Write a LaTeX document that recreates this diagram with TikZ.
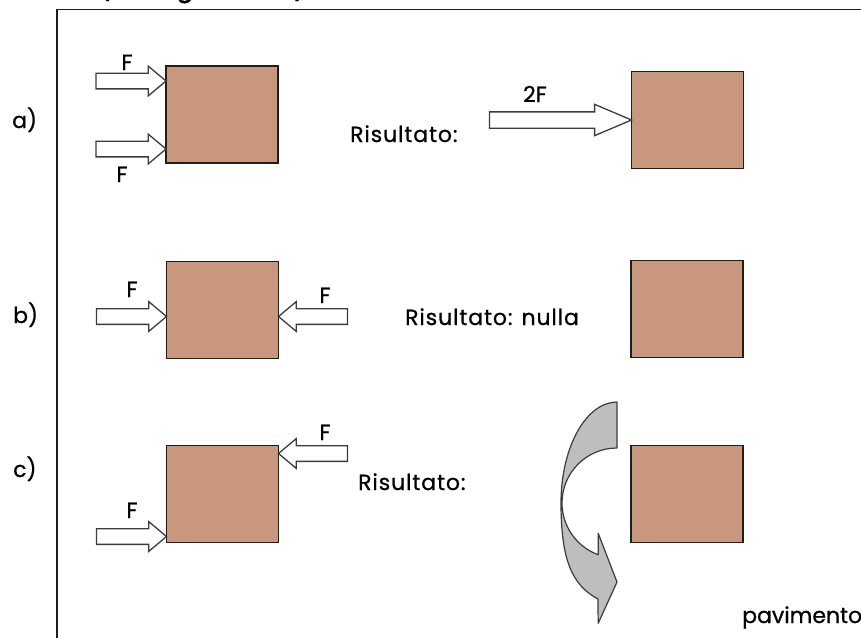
\documentclass[tikz,border=0pt]{standalone}
\usepackage{fontspec}
\setmainfont{Poppins}[FakeBold=0.7]
\newfontfamily\widefont{Poppins}[FakeBold=0.7,LetterSpace=4]
\newfontfamily\headfont{Poppins}[FakeBold=0.7,LetterSpace=12]
\usetikzlibrary{shapes.arrows,calc}
\definecolor{brick}{RGB}{201,150,126}
\definecolor{edge}{RGB}{30,30,30}
\definecolor{arrowedge}{RGB}{60,60,60}
\definecolor{turn}{RGB}{190,190,190}
\begin{document}
\begin{tikzpicture}[x=1pt,y=-1pt,
  block/.style={draw=edge, fill=brick, line width=1.8pt, minimum width=112pt,
    minimum height=97pt, inner sep=0pt, outer sep=0pt},
  push/.style={single arrow, draw=arrowedge, fill=white, line width=1.3pt,
    inner xsep=0pt, inner ysep=7.2pt, single arrow head extend=7pt,
    single arrow tip angle=80, minimum height=70pt, outer sep=0pt, anchor=tip},
  pushleft/.style={push, shape border rotate=180},
  lbl/.style={font=\fontsize{22}{24}\selectfont, inner sep=0pt, anchor=base},
  result/.style={font=\widefont\fontsize{22}{24}\selectfont, inner sep=0pt, anchor=base west},
  frame/.style={draw=edge, line width=1.6pt}]
\useasboundingbox (0,0) rectangle (861,637);
\clip (0,0) rectangle (861,637);

% heading, mostly above the page
\node[font=\headfont\fontsize{27}{30}\selectfont, inner sep=0pt, anchor=base west] (head) at (98,-4) {(es., grafico)};

% frame
\draw[frame] (57,645) -- (57,9.5) -- (870,9.5);

% row labels
\node[lbl, anchor=base west] (la) at (12,128) {a)};
\node[lbl, anchor=base west] (lb) at (13,323) {b)};
\node[lbl, anchor=base west] (lc) at (13,477) {c)};

% case a
\node[block] (A1) at (222,114.5) {};
\node[push] (fa1) at ($(A1.north west)+(0,15)$) {};
\node[push] (fa2) at ($(A1.south west)+(0,-14)$) {};
\node[lbl] (Fa1) at (127,70) {F};
\node[lbl] (Fa2) at (122,182) {F};
\node[result] (ra) at (350,142) {Risultato:};
\node[block] (A2) at (687.5,120) {};
\node[push, minimum height=142pt, inner ysep=7.5pt, single arrow head extend=7.5pt,
  single arrow tip angle=46] (f2) at (A2.west) {};
\node[lbl] (F2) at (535,102) {2F};

% case b
\node[block] (B1) at (222.5,310) {};
\node[push] (fb1) at ($(B1.north west)+(0,55)$) {};
\node[pushleft, minimum height=69pt] (fb2) at ($(B1.north east)+(0,55)$) {};
\node[lbl] (Fb1) at (132,297) {F};
\node[lbl] (Fb2) at (325,303) {F};
\node[result] (rb) at (405,325) {Risultato: nulla};
\node[block] (B2) at (687,309) {};

% case c
\node[block] (C1) at (222.5,494) {};
\node[pushleft, minimum height=69pt] (fc1) at ($(C1.north east)+(0,8)$) {};
\node[push] (fc2) at ($(C1.south west)+(0,-6)$) {};
\node[lbl] (Fc1) at (325,440) {F};
\node[lbl] (Fc2) at (132,518) {F};
\node[result] (rc) at (358,490) {Risultato:};
\node[block] (C2) at (687,494) {};

% turning arrow
\draw[draw=arrowedge, fill=turn, line width=1.2pt, line join=round]
  (617,402) -- (617,448)
  .. controls (586.6,448) and (562,472.6) .. (562,503)
  .. controls (562,526.1) and (576.5,546.8) .. (598.2,554.7)
  -- (598.2,533.3) -- (617,582) -- (598.2,623.3) -- (597.9,599)
  .. controls (572,585) and (561,560) .. (561,503)
  .. controls (561,447.2) and (586.1,402) .. cycle;

\node[lbl, anchor=base west] (floor) at (742,623) {pavimento};
\end{tikzpicture}
\end{document}
